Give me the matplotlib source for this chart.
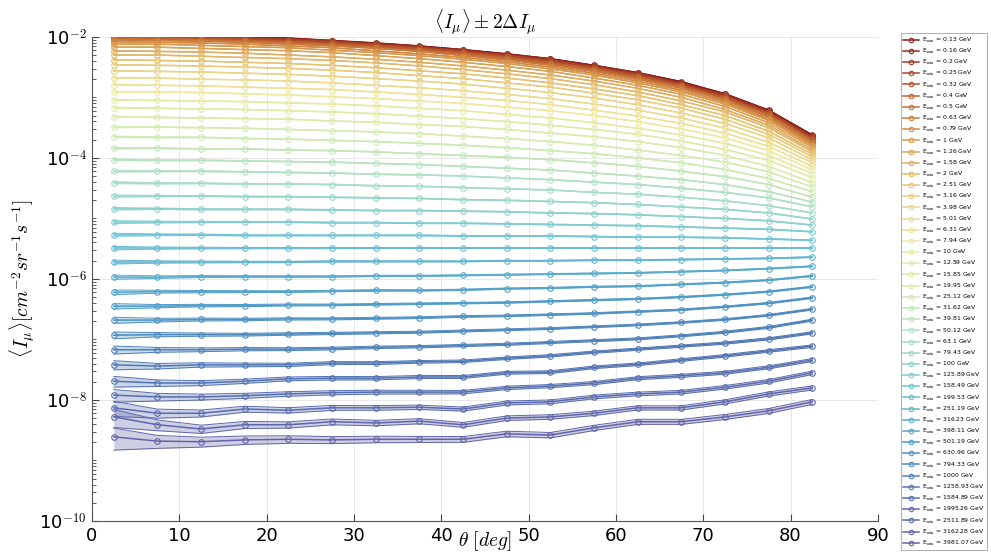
import numpy as np
import matplotlib
matplotlib.use("Agg")
import matplotlib.pyplot as plt
from matplotlib.colors import LinearSegmentedColormap

theta = [2.5, 7.5, 12.5, 17.5, 22.5, 27.5, 32.5, 37.5, 42.5, 47.5,
         52.5, 57.5, 62.5, 67.5, 72.5, 77.5, 82.5]

e_min_labels = ["0.13", "0.16", "0.2", "0.25", "0.32", "0.4", "0.5", "0.63", "0.79", "1",
                "1.26", "1.58", "2", "2.51", "3.16", "3.98", "5.01", "6.31", "7.94", "10",
                "12.59", "15.85", "19.95", "25.12", "31.62", "39.81", "50.12", "63.1", "79.43", "100",
                "125.89", "158.49", "199.53", "251.19", "316.23", "398.11", "501.19", "630.96", "794.33", "1000",
                "1258.93", "1584.89", "1995.26", "2511.89", "3162.28", "3981.07"]

# log10 of mean intensity, one row per E_min, one column per theta
log_I = [
    [-1.96, -1.97, -1.98, -2.00, -2.02, -2.06, -2.10, -2.15, -2.21, -2.28, -2.36, -2.47, -2.59, -2.74, -2.94, -3.21, -3.62],
    [-1.97, -1.97, -1.99, -2.01, -2.03, -2.07, -2.11, -2.16, -2.22, -2.29, -2.37, -2.48, -2.60, -2.76, -2.95, -3.22, -3.64],
    [-1.98, -1.98, -2.00, -2.02, -2.04, -2.07, -2.12, -2.17, -2.23, -2.30, -2.38, -2.49, -2.61, -2.77, -2.97, -3.24, -3.65],
    [-1.98, -1.99, -2.00, -2.02, -2.05, -2.08, -2.13, -2.18, -2.24, -2.31, -2.39, -2.50, -2.62, -2.78, -2.98, -3.25, -3.67],
    [-2.00, -2.01, -2.02, -2.04, -2.07, -2.10, -2.14, -2.19, -2.25, -2.33, -2.41, -2.52, -2.64, -2.80, -3.00, -3.27, -3.69],
    [-2.02, -2.02, -2.04, -2.06, -2.08, -2.12, -2.16, -2.21, -2.27, -2.34, -2.43, -2.53, -2.66, -2.81, -3.01, -3.28, -3.70],
    [-2.03, -2.04, -2.05, -2.07, -2.10, -2.13, -2.18, -2.23, -2.29, -2.36, -2.45, -2.55, -2.68, -2.83, -3.03, -3.31, -3.73],
    [-2.05, -2.06, -2.07, -2.09, -2.12, -2.15, -2.19, -2.24, -2.31, -2.38, -2.47, -2.57, -2.70, -2.85, -3.05, -3.33, -3.75],
    [-2.08, -2.09, -2.10, -2.12, -2.15, -2.18, -2.23, -2.28, -2.34, -2.41, -2.50, -2.60, -2.73, -2.88, -3.08, -3.36, -3.78],
    [-2.12, -2.12, -2.14, -2.16, -2.18, -2.22, -2.26, -2.31, -2.37, -2.44, -2.53, -2.63, -2.76, -2.91, -3.11, -3.38, -3.80],
    [-2.17, -2.17, -2.19, -2.21, -2.23, -2.26, -2.31, -2.36, -2.42, -2.49, -2.57, -2.68, -2.80, -2.95, -3.15, -3.42, -3.83],
    [-2.23, -2.24, -2.25, -2.27, -2.30, -2.33, -2.37, -2.42, -2.48, -2.55, -2.63, -2.73, -2.85, -3.00, -3.20, -3.46, -3.87],
    [-2.30, -2.30, -2.32, -2.34, -2.36, -2.39, -2.43, -2.48, -2.54, -2.61, -2.69, -2.79, -2.91, -3.06, -3.24, -3.50, -3.90],
    [-2.38, -2.39, -2.40, -2.42, -2.44, -2.47, -2.51, -2.56, -2.61, -2.68, -2.76, -2.86, -2.97, -3.12, -3.30, -3.56, -3.94],
    [-2.46, -2.47, -2.48, -2.50, -2.52, -2.55, -2.59, -2.64, -2.69, -2.76, -2.83, -2.93, -3.04, -3.18, -3.36, -3.61, -3.98],
    [-2.56, -2.57, -2.58, -2.60, -2.62, -2.65, -2.69, -2.73, -2.78, -2.85, -2.92, -3.01, -3.12, -3.26, -3.43, -3.67, -4.03],
    [-2.68, -2.68, -2.70, -2.71, -2.73, -2.76, -2.80, -2.84, -2.89, -2.95, -3.02, -3.11, -3.21, -3.34, -3.51, -3.74, -4.08],
    [-2.79, -2.80, -2.81, -2.83, -2.85, -2.87, -2.91, -2.95, -3.00, -3.05, -3.12, -3.21, -3.31, -3.43, -3.59, -3.81, -4.14],
    [-2.91, -2.91, -2.92, -2.94, -2.96, -2.99, -3.02, -3.06, -3.10, -3.16, -3.22, -3.30, -3.40, -3.52, -3.67, -3.88, -4.20],
    [-3.04, -3.05, -3.06, -3.07, -3.09, -3.11, -3.14, -3.18, -3.22, -3.28, -3.34, -3.42, -3.51, -3.62, -3.76, -3.96, -4.26],
    [-3.17, -3.18, -3.19, -3.20, -3.22, -3.24, -3.27, -3.31, -3.35, -3.40, -3.46, -3.53, -3.61, -3.72, -3.86, -4.04, -4.33],
    [-3.32, -3.33, -3.34, -3.35, -3.36, -3.39, -3.41, -3.45, -3.48, -3.53, -3.59, -3.65, -3.73, -3.83, -3.96, -4.14, -4.41],
    [-3.49, -3.49, -3.50, -3.51, -3.53, -3.55, -3.57, -3.60, -3.64, -3.68, -3.73, -3.79, -3.87, -3.96, -4.07, -4.23, -4.48],
    [-3.65, -3.66, -3.66, -3.68, -3.69, -3.71, -3.73, -3.76, -3.79, -3.83, -3.88, -3.93, -4.00, -4.08, -4.19, -4.34, -4.56],
    [-3.84, -3.84, -3.85, -3.85, -3.87, -3.88, -3.90, -3.93, -3.96, -3.99, -4.03, -4.08, -4.14, -4.22, -4.31, -4.44, -4.65],
    [-4.03, -4.04, -4.04, -4.05, -4.06, -4.07, -4.09, -4.11, -4.14, -4.17, -4.20, -4.25, -4.30, -4.36, -4.44, -4.56, -4.73],
    [-4.22, -4.22, -4.22, -4.23, -4.24, -4.25, -4.27, -4.28, -4.30, -4.33, -4.36, -4.40, -4.44, -4.50, -4.57, -4.66, -4.81],
    [-4.41, -4.42, -4.42, -4.43, -4.43, -4.44, -4.46, -4.47, -4.49, -4.51, -4.53, -4.57, -4.60, -4.65, -4.71, -4.79, -4.91],
    [-4.63, -4.63, -4.63, -4.64, -4.64, -4.65, -4.66, -4.67, -4.69, -4.70, -4.72, -4.74, -4.77, -4.81, -4.85, -4.91, -5.01],
    [-4.84, -4.84, -4.85, -4.85, -4.85, -4.86, -4.87, -4.87, -4.88, -4.89, -4.91, -4.92, -4.94, -4.97, -5.00, -5.04, -5.11],
    [-5.06, -5.06, -5.06, -5.06, -5.06, -5.07, -5.07, -5.08, -5.08, -5.09, -5.10, -5.11, -5.12, -5.14, -5.16, -5.18, -5.22],
    [-5.27, -5.27, -5.27, -5.28, -5.28, -5.28, -5.28, -5.28, -5.29, -5.29, -5.29, -5.30, -5.31, -5.31, -5.32, -5.34, -5.36],
    [-5.49, -5.49, -5.49, -5.49, -5.49, -5.49, -5.49, -5.49, -5.49, -5.49, -5.49, -5.49, -5.49, -5.49, -5.49, -5.49, -5.49],
    [-5.72, -5.72, -5.72, -5.72, -5.72, -5.71, -5.71, -5.71, -5.71, -5.70, -5.70, -5.69, -5.69, -5.68, -5.67, -5.66, -5.64],
    [-5.97, -5.97, -5.96, -5.96, -5.96, -5.96, -5.95, -5.95, -5.94, -5.93, -5.92, -5.91, -5.90, -5.88, -5.86, -5.83, -5.79],
    [-6.22, -6.21, -6.21, -6.21, -6.21, -6.20, -6.19, -6.19, -6.18, -6.16, -6.15, -6.13, -6.12, -6.09, -6.06, -6.02, -5.95],
    [-6.45, -6.45, -6.44, -6.44, -6.43, -6.43, -6.42, -6.41, -6.40, -6.39, -6.37, -6.35, -6.33, -6.30, -6.26, -6.21, -6.13],
    [-6.68, -6.68, -6.67, -6.67, -6.66, -6.66, -6.65, -6.64, -6.62, -6.61, -6.59, -6.57, -6.54, -6.51, -6.46, -6.40, -6.31],
    [-6.93, -6.92, -6.92, -6.92, -6.91, -6.90, -6.89, -6.88, -6.86, -6.84, -6.82, -6.79, -6.76, -6.72, -6.67, -6.60, -6.50],
    [-7.17, -7.17, -7.17, -7.16, -7.16, -7.15, -7.13, -7.12, -7.10, -7.08, -7.05, -7.02, -6.99, -6.94, -6.88, -6.80, -6.68],
    [-7.42, -7.44, -7.42, -7.42, -7.42, -7.39, -7.39, -7.37, -7.36, -7.31, -7.27, -7.21, -7.16, -7.11, -7.06, -6.99, -6.89],
    [-7.69, -7.72, -7.72, -7.69, -7.65, -7.64, -7.64, -7.62, -7.62, -7.55, -7.54, -7.46, -7.41, -7.34, -7.27, -7.19, -7.11],
    [-7.92, -7.95, -7.95, -7.93, -7.90, -7.88, -7.87, -7.87, -7.87, -7.80, -7.77, -7.72, -7.64, -7.60, -7.55, -7.46, -7.34],
    [-8.13, -8.22, -8.22, -8.15, -8.17, -8.13, -8.13, -8.12, -8.15, -8.05, -8.03, -7.95, -7.90, -7.87, -7.79, -7.69, -7.55],
    [-8.28, -8.41, -8.48, -8.41, -8.41, -8.36, -8.38, -8.35, -8.41, -8.30, -8.28, -8.22, -8.13, -8.13, -8.03, -7.90, -7.80],
    [-8.61, -8.68, -8.69, -8.66, -8.65, -8.66, -8.65, -8.65, -8.65, -8.56, -8.58, -8.46, -8.36, -8.36, -8.28, -8.18, -8.03],
]

# relative band half-width (2*dI/I) per E_min at mid angles, and angular factor
err_series = [0.002, 0.002, 0.002, 0.002, 0.002, 0.002, 0.002, 0.002, 0.002, 0.002,
              0.003, 0.003, 0.003, 0.003, 0.003, 0.004, 0.004, 0.004, 0.005, 0.005,
              0.006, 0.006, 0.007, 0.008, 0.008, 0.009, 0.010, 0.011, 0.012, 0.013,
              0.015, 0.016, 0.018, 0.020, 0.022, 0.025, 0.028, 0.032, 0.036, 0.042,
              0.048, 0.056, 0.066, 0.078, 0.092, 0.110]
err_angle = [3.6, 2.2, 1.7, 1.45, 1.3, 1.2, 1.12, 1.05, 1.0, 0.96,
             0.93, 0.9, 0.88, 0.87, 0.86, 0.85, 0.85]

colors = ["#8b1e1e", "#bb5a2a", "#d99a4e", "#e8c97a", "#eeeaa0", "#d2ebb2",
          "#a6dcc8", "#6cc2d4", "#4d9bc8", "#4f74b3", "#6363a8"]
cmap = LinearSegmentedColormap.from_list("flux", colors)

plt.rcParams["mathtext.fontset"] = "cm"

fig = plt.figure(figsize=(9.91, 5.52), dpi=100)
ax = fig.add_axes([0.0928, 0.0562, 0.793, 0.877])

n = len(log_I)
th = np.array(theta)
handles = []
for k, row in enumerate(log_I):
    I = 10.0 ** np.array(row)
    rel = err_series[k] * np.array(err_angle)
    lo = I * np.clip(1 - rel, 0.05, None)
    hi = I * (1 + rel)
    c = cmap(k / (n - 1))
    ax.fill_between(th, lo, hi, color=c, alpha=0.3, lw=0, zorder=2)
    ax.plot(th, lo, color=c, lw=0.7, zorder=3)
    ax.plot(th, hi, color=c, lw=0.7, zorder=3)
    h, = ax.plot(th, I, color=c, lw=1.1, marker="o", ms=4.0, mfc="none",
                 mew=0.8, zorder=4, label=r"E$_{\rm min}$ = " + e_min_labels[k] + " GeV")
    handles.append(h)

ax.set_yscale("log")
ax.set_xlim(0, 90)
ax.set_ylim(1e-10, 1e-2)
ax.set_xticks(range(0, 91, 10))
ax.set_yticks([1e-10, 1e-8, 1e-6, 1e-4, 1e-2])
ax.set_yticklabels([r"10$^{\mathsf{-10}}$", r"10$^{\mathsf{-8}}$", r"10$^{\mathsf{-6}}$",
                    r"10$^{\mathsf{-4}}$", r"10$^{\mathsf{-2}}$"])
ax.yaxis.set_minor_locator(matplotlib.ticker.LogLocator(base=10, subs=np.arange(1, 10), numticks=20))
ax.yaxis.set_minor_formatter(matplotlib.ticker.NullFormatter())
ax.tick_params(axis="both", which="both", direction="in", labelsize=13, color="#444444")
ax.tick_params(axis="both", which="major", length=5)
ax.tick_params(axis="both", which="minor", length=3)
ax.tick_params(axis="x", pad=4)
ax.grid(True, which="major", color="#e4e4e4", lw=0.6, zorder=0)
for s in ["top", "right"]:
    ax.spines[s].set_visible(False)
for s in ["left", "bottom"]:
    ax.spines[s].set_color("#555555")

ax.set_title(r"$\langle I_\mu \rangle \pm 2\Delta I_\mu$", fontsize=14, pad=-3)
ax.set_xlabel(r"$\theta\ [deg]$", fontsize=14, labelpad=-11)
ax.set_ylabel(r"$\langle I_\mu \rangle [cm^{-2} sr^{-1} s^{-1}]$", fontsize=14, labelpad=2)

leg = fig.legend(handles=handles, loc="upper left", bbox_to_anchor=(0.906, 0.945),
                 fontsize=4.4, labelspacing=0.35, handlelength=2.6, handletextpad=0.4,
                 borderpad=0.4, frameon=True, fancybox=False, edgecolor="#888888",
                 markerscale=0.8)
leg.get_frame().set_linewidth(0.6)

fig.savefig("out.png", dpi=100)
